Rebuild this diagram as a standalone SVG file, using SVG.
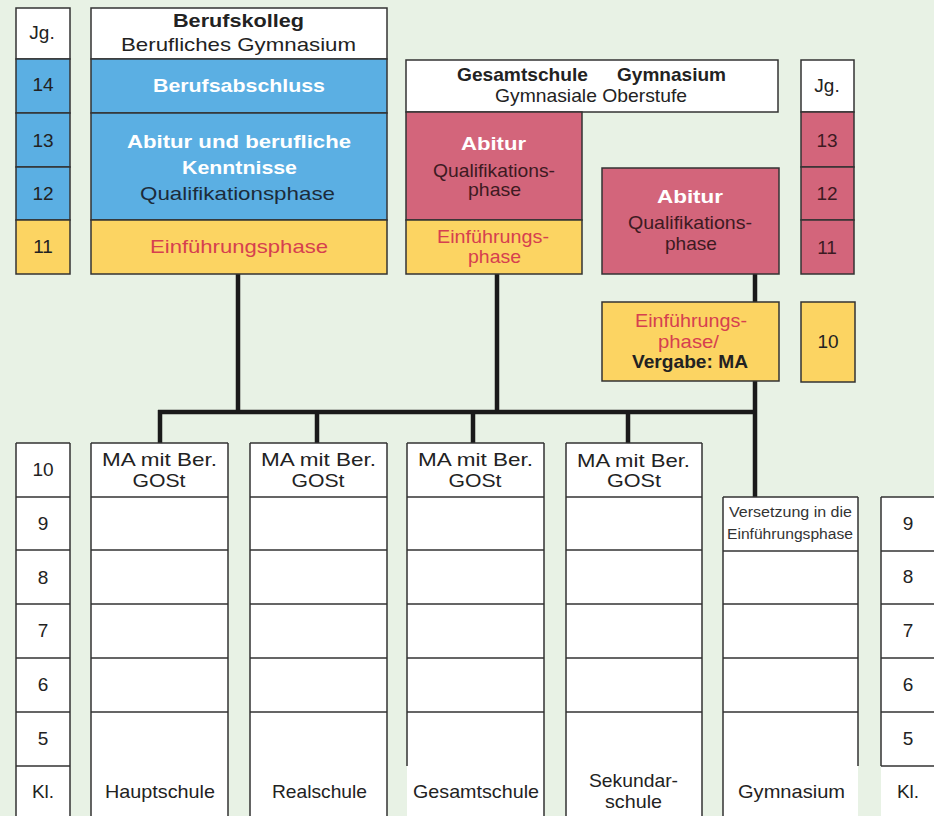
<svg xmlns="http://www.w3.org/2000/svg" width="934" height="816" viewBox="0 0 934 816">
<style>
.t{font-family:"Liberation Sans",Arial,sans-serif;font-size:19px;fill:#222;text-anchor:middle}
.b{font-weight:bold}
.w{fill:#fff}
.r{fill:#d6404f}
.dm{fill:#3d1a22}
.db{fill:#1c2b3a}
.s{font-size:14px;fill:#333}
.box{stroke:#333;stroke-width:1.5}
.ln{stroke:#333;stroke-width:1.5;fill:none}
.white{fill:#fff}
.blue{fill:#5bafe3}
.pink{fill:#d3657b}
.yel{fill:#fcd462}
.con{stroke:#1a1a1a;stroke-width:4.5;fill:none;stroke-linecap:butt}
</style>
<rect x="0" y="0" width="934" height="816" fill="#e8f2e5"/>

<g id="connectors">
<path class="con" d="M238 274V412M497 274V412M755 274V302M755 381V497M158 412H757M160 410V443M317 410V443M473 410V443M628 410V443"/>
</g>

<g id="jg-left-top">
<rect class="box white" x="16" y="8" width="54" height="51"/>
<rect class="box blue" x="16" y="59" width="54" height="54"/>
<rect class="box blue" x="16" y="113" width="54" height="54"/>
<rect class="box blue" x="16" y="167" width="54" height="53"/>
<rect class="box yel" x="16" y="220" width="54" height="54"/>
<text class="t" x="42" y="39" font-size="20">Jg.</text>
<text class="t" x="43" y="91">14</text>
<text class="t" x="43" y="147">13</text>
<text class="t" x="43" y="200">12</text>
<text class="t" x="43" y="253">11</text>
</g>

<g id="berufskolleg">
<rect class="box white" x="91" y="8" width="296" height="51"/>
<rect class="box blue" x="91" y="59" width="296" height="54"/>
<rect class="box blue" x="91" y="113" width="296" height="107"/>
<rect class="box yel" x="91" y="220" width="296" height="54"/>
<text class="t b" x="238.5" y="27" font-size="18" textLength="131" lengthAdjust="spacingAndGlyphs">Berufskolleg</text>
<text class="t" x="238.5" y="51" textLength="235" lengthAdjust="spacingAndGlyphs">Berufliches Gymnasium</text>
<text class="t b w" x="239" y="92" textLength="172" lengthAdjust="spacingAndGlyphs">Berufsabschluss</text>
<text class="t b w" x="239" y="148" textLength="224" lengthAdjust="spacingAndGlyphs">Abitur und berufliche</text>
<text class="t b w" x="239.5" y="174" textLength="115" lengthAdjust="spacingAndGlyphs">Kenntnisse</text>
<text class="t db" x="237.5" y="200" textLength="195" lengthAdjust="spacingAndGlyphs">Qualifikationsphase</text>
<text class="t r" x="239" y="253" textLength="178" lengthAdjust="spacingAndGlyphs">Einführungsphase</text>
</g>

<g id="oberstufe-header">
<rect class="box white" x="406" y="60" width="372" height="52"/>
<text class="t b" x="457" y="81" font-size="18" style="text-anchor:start" textLength="131" lengthAdjust="spacingAndGlyphs">Gesamtschule</text>
<text class="t b" x="617" y="81" font-size="18" style="text-anchor:start" textLength="109" lengthAdjust="spacingAndGlyphs">Gymnasium</text>
<text class="t" x="591" y="102" font-size="18" textLength="192" lengthAdjust="spacingAndGlyphs">Gymnasiale Oberstufe</text>
</g>

<g id="gesamtschule-oberstufe">
<rect class="box pink" x="406" y="112" width="176" height="108"/>
<rect class="box yel" x="406" y="220" width="176" height="54"/>
<text class="t b w" x="493.5" y="150" textLength="65" lengthAdjust="spacingAndGlyphs">Abitur</text>
<text class="t dm" x="494" y="177" textLength="122" lengthAdjust="spacingAndGlyphs">Qualifikations-</text>
<text class="t dm" x="494.5" y="196" textLength="53" lengthAdjust="spacingAndGlyphs">phase</text>
<text class="t r" x="493" y="243" textLength="112" lengthAdjust="spacingAndGlyphs">Einführungs-</text>
<text class="t r" x="494.5" y="263" textLength="53" lengthAdjust="spacingAndGlyphs">phase</text>
</g>

<g id="gymnasium-oberstufe">
<rect class="box pink" x="602" y="168" width="177" height="106"/>
<text class="t b w" x="690" y="203" textLength="66" lengthAdjust="spacingAndGlyphs">Abitur</text>
<text class="t dm" x="690" y="229" textLength="124" lengthAdjust="spacingAndGlyphs">Qualifikations-</text>
<text class="t dm" x="691" y="250" textLength="52" lengthAdjust="spacingAndGlyphs">phase</text>
</g>

<g id="jg-right-top">
<rect class="box white" x="801" y="60" width="53" height="52"/>
<rect class="box pink" x="801" y="112" width="53" height="55"/>
<rect class="box pink" x="801" y="167" width="53" height="53"/>
<rect class="box pink" x="801" y="220" width="53" height="54"/>
<text class="t" x="827" y="92" font-size="20">Jg.</text>
<text class="t dm" x="827" y="147">13</text>
<text class="t dm" x="827" y="200">12</text>
<text class="t dm" x="827" y="254">11</text>
</g>

<g id="einfuehrung-gym">
<rect class="box yel" x="602" y="302" width="177" height="79"/>
<text class="t r" x="691" y="327" textLength="112" lengthAdjust="spacingAndGlyphs">Einführungs-</text>
<text class="t r" x="688.5" y="348" textLength="61" lengthAdjust="spacingAndGlyphs">phase/</text>
<text class="t b" x="690" y="368" textLength="116" lengthAdjust="spacingAndGlyphs">Vergabe: MA</text>
</g>

<g id="jg-10">
<rect class="box yel" x="801" y="302" width="54" height="80"/>
<text class="t" x="828" y="348">10</text>
</g>

<g id="kl-left">
<rect class="white" x="16" y="443" width="54" height="380"/>
<path class="ln" d="M16 443H70M16 443V816M70 443V816M16 497H70M16 550H70M16 604H70M16 658H70M16 712H70M16 766H70"/>
<text class="t" x="43" y="476">10</text>
<text class="t" x="43" y="530">9</text>
<text class="t" x="43" y="584">8</text>
<text class="t" x="43" y="637">7</text>
<text class="t" x="43" y="691">6</text>
<text class="t" x="43" y="745">5</text>
<text class="t" x="43" y="798">Kl.</text>
</g>

<g id="hauptschule">
<rect class="white" x="91" y="443" width="137" height="380"/>
<path class="ln" d="M91 443H228M91 443V816M228 443V816M91 497H228M91 550H228M91 604H228M91 658H228M91 712H228"/>
<text class="t" x="159.5" y="466" textLength="115" lengthAdjust="spacingAndGlyphs">MA mit Ber.</text>
<text class="t" x="159" y="487" textLength="53" lengthAdjust="spacingAndGlyphs">GOSt</text>
<text class="t" x="160" y="798" textLength="110" lengthAdjust="spacingAndGlyphs">Hauptschule</text>
</g>

<g id="realschule">
<rect class="white" x="250" y="443" width="137" height="380"/>
<path class="ln" d="M250 443H387M250 443V816M387 443V816M250 497H387M250 550H387M250 604H387M250 658H387M250 712H387"/>
<text class="t" x="318.5" y="466" textLength="115" lengthAdjust="spacingAndGlyphs">MA mit Ber.</text>
<text class="t" x="318" y="487" textLength="53" lengthAdjust="spacingAndGlyphs">GOSt</text>
<text class="t" x="319.5" y="798" textLength="95" lengthAdjust="spacingAndGlyphs">Realschule</text>
</g>

<g id="gesamtschule">
<rect class="white" x="407" y="443" width="137" height="380"/>
<path class="ln" d="M407 443H544M407 443V766M544 443V816M407 497H544M407 550H544M407 604H544M407 658H544M407 712H544"/>
<text class="t" x="475.5" y="466" textLength="115" lengthAdjust="spacingAndGlyphs">MA mit Ber.</text>
<text class="t" x="475" y="487" textLength="53" lengthAdjust="spacingAndGlyphs">GOSt</text>
<text class="t" x="476" y="798" textLength="126" lengthAdjust="spacingAndGlyphs">Gesamtschule</text>
</g>

<g id="sekundarschule">
<rect class="white" x="566" y="443" width="136" height="380"/>
<path class="ln" d="M566 443H702M566 443V816M702 443V816M566 497H702M566 550H702M566 604H702M566 658H702M566 712H702"/>
<text class="t" x="633.5" y="467" textLength="113" lengthAdjust="spacingAndGlyphs">MA mit Ber.</text>
<text class="t" x="634" y="487" textLength="54" lengthAdjust="spacingAndGlyphs">GOSt</text>
<text class="t" x="633.5" y="787" textLength="89" lengthAdjust="spacingAndGlyphs">Sekundar-</text>
<text class="t" x="633.5" y="808" textLength="57" lengthAdjust="spacingAndGlyphs">schule</text>
</g>

<g id="gymnasium">
<rect class="white" x="723" y="497" width="135" height="326"/>
<path class="ln" d="M723 497H858M723 497V816M858 497V766M723 551H858M723 604H858M723 658H858M723 712H858"/>
<text class="t s" x="790.5" y="517" textLength="123" lengthAdjust="spacingAndGlyphs">Versetzung in die</text>
<text class="t s" x="790" y="539" textLength="126" lengthAdjust="spacingAndGlyphs">Einführungsphase</text>
<text class="t" x="791.5" y="798" textLength="107" lengthAdjust="spacingAndGlyphs">Gymnasium</text>
</g>

<g id="kl-right">
<rect class="white" x="881" y="497" width="60" height="326"/>
<path class="ln" d="M881 497H934M881 497V766M881 551H934M881 604H934M881 658H934M881 712H934M881 766H934"/>
<text class="t" x="908" y="530">9</text>
<text class="t" x="908" y="583">8</text>
<text class="t" x="908" y="637">7</text>
<text class="t" x="908" y="691">6</text>
<text class="t" x="908" y="745">5</text>
<text class="t" x="908" y="798">Kl.</text>
</g>
</svg>
